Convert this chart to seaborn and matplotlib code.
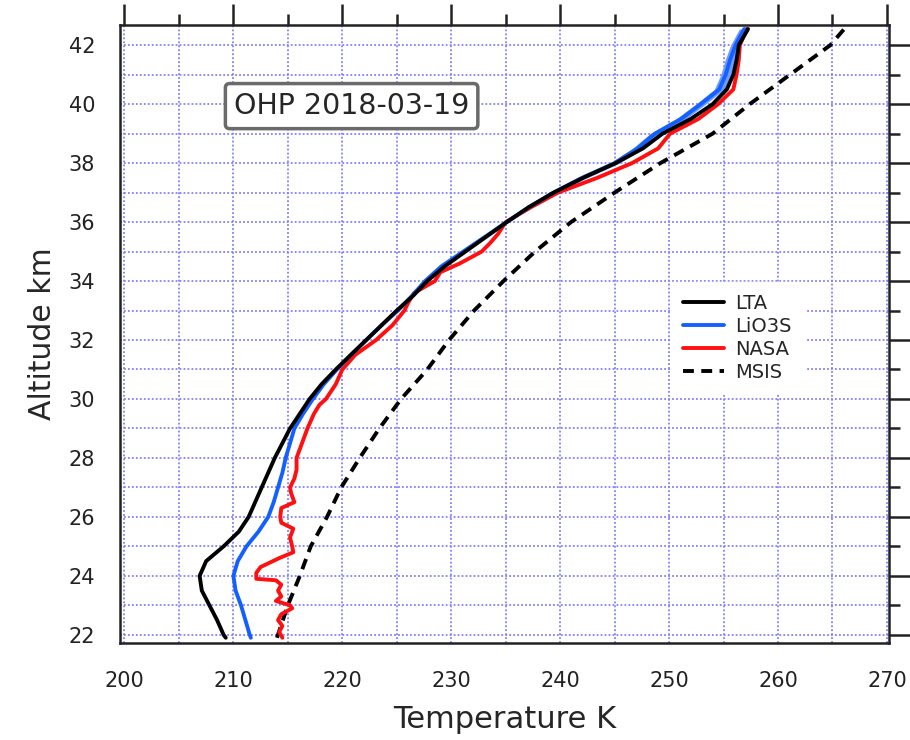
import numpy as np
import pandas as pd
import matplotlib
matplotlib.use("Agg")
import matplotlib.pyplot as plt
import seaborn as sns
from matplotlib.ticker import MultipleLocator

# Perfiles de temperatura (K) en función de la altitud (km)
alt_lta = [21.9, 22.0, 22.5, 23.0, 23.5, 24.0, 24.5, 25.0, 25.5, 26.0, 26.5, 27.0,
           27.5, 28.0, 28.5, 29.0, 29.5, 30.0, 30.5, 31.0, 31.5, 32.0, 32.5, 33.0,
           33.5, 34.0, 34.5, 35.0, 35.5, 36.0, 36.5, 37.0, 37.5, 38.0, 38.5, 39.0,
           39.5, 40.0, 40.5, 41.0, 41.5, 42.0, 42.55]
t_lta = [209.3, 209.1, 208.5, 207.8, 207.1, 206.9, 207.5, 209.1, 210.5, 211.4, 212.0, 212.6,
         213.2, 213.8, 214.5, 215.2, 216.1, 217.0, 218.1, 219.4, 220.8, 222.2, 223.6, 225.0,
         226.5, 227.8, 229.4, 231.3, 233.2, 235.1, 237.1, 239.4, 242.1, 245.1, 247.6, 249.4,
         252.0, 254.0, 255.3, 255.9, 256.2, 256.4, 257.25]

alt_lio3s = alt_lta
t_lio3s = [211.6, 211.5, 211.1, 210.7, 210.2, 210.0, 210.4, 211.2, 212.3, 213.2, 213.7, 214.1,
           214.5, 214.8, 215.2, 215.6, 216.4, 217.3, 218.3, 219.5, 220.8, 222.2, 223.6, 225.1,
           226.4, 227.6, 229.1, 231.1, 233.1, 235.1, 237.1, 239.4, 242.0, 245.0, 247.1, 248.7,
           251.1, 252.9, 254.6, 255.2, 255.6, 256.1, 256.9]

alt_nasa = [21.9, 22.1, 22.3, 22.5, 22.7, 22.9, 23.0, 23.15, 23.3, 23.5, 23.7, 23.85,
            23.9, 24.1, 24.3, 24.6, 24.8, 25.0, 25.3, 25.6, 25.8, 26.0, 26.3, 26.5,
            26.8, 27.0, 27.3, 27.6, 28.0, 28.5, 29.0, 29.5, 29.8, 30.0, 30.5, 31.0,
            31.5, 32.0, 32.5, 33.0, 33.3, 33.6, 34.0, 34.3, 34.6, 35.0, 35.3, 35.6,
            36.0, 36.5, 37.0, 37.5, 38.0, 38.5, 39.0, 39.5, 40.0, 40.5, 41.0, 41.5,
            42.0, 42.55]
t_nasa = [214.5, 214.2, 214.5, 214.1, 214.4, 215.4, 215.2, 213.9, 214.4, 214.1, 214.4, 213.9,
          212.1, 212.1, 212.5, 214.2, 215.5, 215.4, 215.2, 215.5, 214.4, 214.3, 214.4, 215.6,
          215.3, 215.2, 215.6, 215.8, 215.8, 216.3, 216.8, 217.4, 217.9, 218.5, 219.4, 220.0,
          221.2, 223.1, 224.6, 225.7, 226.1, 226.6, 228.5, 229.0, 230.8, 232.8, 233.6, 234.3,
          235.0, 237.3, 239.8, 243.4, 246.6, 249.0, 250.1, 252.7, 254.5, 255.9, 256.2, 256.4,
          256.5, 257.1]

alt_msis = [21.9, 23.0, 24.0, 25.0, 26.0, 27.0, 28.0, 29.0, 30.0, 31.0, 32.0, 33.0,
            34.0, 35.0, 36.0, 37.0, 38.0, 39.0, 40.0, 41.0, 42.0, 42.6]
t_msis = [214.0, 215.0, 216.1, 217.1, 218.6, 219.9, 221.6, 223.4, 225.4, 227.8, 229.8, 232.1,
          234.8, 237.7, 241.0, 245.0, 249.2, 254.0, 257.4, 261.1, 264.8, 266.2]

sns.set_style("white")
plt.rcParams['font.family'] = ['DejaVu Sans']

fig = plt.figure(figsize=(9.1, 7.4), dpi=100)
ax = fig.add_axes([0.132, 0.131, 0.845, 0.835])

grid_col = '#8080ff'
ax.set_xlim(199.6, 270.2)
ax.set_ylim(21.72, 42.68)
ax.xaxis.set_major_locator(MultipleLocator(10))
ax.xaxis.set_minor_locator(MultipleLocator(5))
ax.yaxis.set_major_locator(MultipleLocator(2))
ax.yaxis.set_minor_locator(MultipleLocator(1))
ax.grid(True, which='both', color=grid_col, linestyle=(0, (1, 1.2)), linewidth=1.3)
ax.set_axisbelow(True)

# bande d'incertitude LiO3S en haut
up = np.array(alt_lio3s) >= 37
ax.fill_betweenx(np.array(alt_lio3s)[up], np.array(t_lio3s)[up] - 0.45,
                 np.array(t_lio3s)[up] + 0.45, color='#6f9bff', lw=0, zorder=2)

df_msis = pd.DataFrame({'T': t_msis, 'alt': alt_msis})
sns.lineplot(data=df_msis, x='T', y='alt', sort=False, estimator=None, ax=ax,
             color='black', lw=2.8, label='MSIS', zorder=3)
ax.lines[-1].set_dashes((2.8, 1.9))

df_nasa = pd.DataFrame({'T': t_nasa, 'alt': alt_nasa})
sns.lineplot(data=df_nasa, x='T', y='alt', sort=False, estimator=None, ax=ax,
             color='#ff1010', lw=2.8, label='NASA', zorder=4)
df_lio = pd.DataFrame({'T': t_lio3s, 'alt': alt_lio3s})
sns.lineplot(data=df_lio, x='T', y='alt', sort=False, estimator=None, ax=ax,
             color='#1460ff', lw=2.8, label='LiO3S', zorder=5)
df_lta = pd.DataFrame({'T': t_lta, 'alt': alt_lta})
sns.lineplot(data=df_lta, x='T', y='alt', sort=False, estimator=None, ax=ax,
             color='black', lw=2.8, label='LTA', zorder=6)

h, l = ax.get_legend_handles_labels()
order = [l.index(n) for n in ['LTA', 'LiO3S', 'NASA', 'MSIS']]
leg = ax.legend([h[i] for i in order], [l[i] for i in order],
                loc='upper left', bbox_to_anchor=(0.717, 0.584), fontsize=14,
                frameon=True, fancybox=False, handlelength=2.1, handletextpad=0.6,
                labelspacing=0.2, borderpad=0.6, borderaxespad=0)
leg.get_frame().set_edgecolor('white')
leg.get_frame().set_facecolor('white')
leg.get_frame().set_alpha(1)

ax.text(0.148, 0.869, 'OHP 2018-03-19', transform=ax.transAxes, fontsize=20.5,
        ha='left', va='center', zorder=8,
        bbox=dict(boxstyle='round,pad=0.3,rounding_size=0.15', fc='white',
                  ec='#6a6a6a', lw=2.5))

for s in ax.spines.values():
    s.set_linewidth(1.8)
    s.set_color('#222222')
ax.tick_params(which='both', direction='out', top=True, right=True,
               width=1.8, color='#222222', labelsize=15, labelcolor='#222222')
ax.tick_params(which='major', length=15)
ax.tick_params(which='minor', length=8)
ax.tick_params(axis='x', which='major', pad=5)
ax.tick_params(axis='y', which='major', pad=3)

ax.set_xlabel('Temperature K', fontsize=22, labelpad=10)
ax.set_ylabel('Altitude km', fontsize=21.5, labelpad=8)

fig.savefig('out.png', dpi=100)
